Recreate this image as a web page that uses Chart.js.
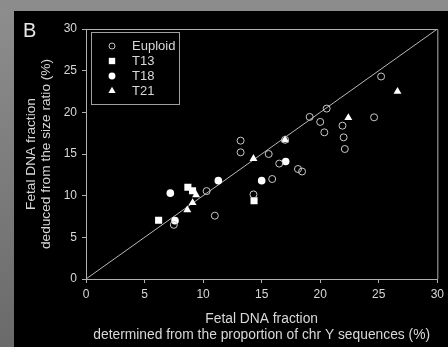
<!DOCTYPE html>
<html>
<head>
<meta charset="utf-8">
<script src="https://cdn.jsdelivr.net/npm/chart.js@4/dist/chart.umd.min.js"></script>
<style>
  html, body { margin: 0; padding: 0; background: #000; }
  #wrap { width: 448px; height: 347px; }
</style>
</head>
<body>
<div id="wrap"><canvas id="chart" width="448" height="347"></canvas></div>
<script>
// valores (x = chr Y, y = razão de tamanho)
const euploidX = [7.5, 10.3, 11.0, 13.2, 13.2, 14.3, 15.6, 15.9, 16.5, 17.0, 18.1, 18.45, 19.1, 20.0, 20.35, 20.55, 21.9, 22.0, 22.1, 24.6, 25.2];
const euploidY = [6.5, 10.55, 7.6, 16.6, 15.2, 10.15, 15.0, 12.0, 13.85, 16.7, 13.2, 12.9, 19.45, 18.85, 17.6, 20.45, 18.4, 17.0, 15.6, 19.4, 24.3];
const t13X = [6.2, 8.7, 9.1, 14.35];
const t13Y = [7.05, 11.0, 10.6, 9.4];
const t18X = [7.2, 7.6, 11.3, 15.0, 17.05];
const t18Y = [10.3, 7.0, 11.8, 11.8, 14.1];
const t21X = [8.65, 9.1, 9.4, 14.3, 17.0, 22.4, 26.6];
const t21Y = [8.3, 9.15, 10.1, 14.45, 16.7, 19.35, 22.5];
const identityX = [0, 30];
const identityY = [0, 30];
const ticksVals = [0, 5, 10, 15, 20, 25, 30];

const legendNames = ["Euploid", "T13", "T18", "T21"];

function pts(xs, ys) {
  return xs.map((x, i) => ({ x: x, y: ys[i] }));
}

const fontFam = "'Liberation Sans', Arial, sans-serif";
const txtColor = "#d8d8d8";
const axisColor = "#b0b0b0";

const bgPlugin = {
  id: "bg",
  beforeDraw(chart) {
    const ctx = chart.ctx;
    ctx.save();
    const g = ctx.createLinearGradient(0, 0, 0, 347);
    g.addColorStop(0, "#8e8e8e");
    g.addColorStop(1, "#6a6a6a");
    ctx.fillStyle = g;
    ctx.fillRect(0, 0, 448, 347);
    ctx.fillStyle = "#8c8c8c";
    ctx.fillRect(0, 0, 448, 11);
    ctx.fillStyle = "#000";
    ctx.fillRect(14, 11, 434, 336);
    ctx.restore();
  },
  afterDraw(chart) {
    const ctx = chart.ctx;
    const a = chart.chartArea;
    ctx.save();
    // cadre
    ctx.strokeStyle = axisColor;
    ctx.lineWidth = 1;
    ctx.beginPath();
    ctx.moveTo(a.left, a.top + 0.5);
    ctx.lineTo(a.right + 0.5, a.top + 0.5);
    ctx.lineTo(a.right + 0.5, a.bottom);
    ctx.stroke();
    // letra B
    ctx.fillStyle = "#e8e8e8";
    ctx.font = "20px " + fontFam;
    ctx.textBaseline = "alphabetic";
    ctx.fillText("B", 23, 37);
    // legenda
    ctx.strokeStyle = "#a0a0a0";
    ctx.strokeRect(91.5, 32.5, 88, 72);
    ctx.font = "13px " + fontFam;
    ctx.textBaseline = "middle";
    legendNames.forEach((name, i) => {
      const y = 46 + i * 15;
      const ds = chart.data.datasets[i];
      ctx.fillStyle = ds.pointBackgroundColor;
      ctx.strokeStyle = ds.pointBorderColor;
      ctx.lineWidth = 1;
      if (i === 0) {
        ctx.beginPath();
        ctx.arc(112, y, 3, 0, Math.PI * 2);
        ctx.stroke();
      } else {
        Chart.helpers.drawPoint(ctx, {
          pointStyle: ds.pointStyle,
          radius: ds.pointRadius * 0.9,
          borderWidth: 0
        }, 112, y);
      }
      ctx.fillStyle = txtColor;
      ctx.fillText(name, 132, y);
    });
    ctx.restore();
  }
};

new Chart(document.getElementById("chart"), {
  type: "scatter",
  data: {
    datasets: [
      { label: legendNames[0], data: pts(euploidX, euploidY), pointStyle: "circle", pointRadius: 3.5,
        pointBackgroundColor: "rgba(0,0,0,0)", pointBorderColor: "#c8c8c8", pointBorderWidth: 1 },
      { label: legendNames[1], data: pts(t13X, t13Y), pointStyle: "rect", pointRadius: 5,
        pointBackgroundColor: "#ffffff", pointBorderColor: "#ffffff", pointBorderWidth: 0 },
      { label: legendNames[2], data: pts(t18X, t18Y), pointStyle: "circle", pointRadius: 3.8,
        pointBackgroundColor: "#ffffff", pointBorderColor: "#ffffff", pointBorderWidth: 0 },
      { label: legendNames[3], data: pts(t21X, t21Y), pointStyle: "triangle", pointRadius: 4.6,
        pointBackgroundColor: "#ffffff", pointBorderColor: "#ffffff", pointBorderWidth: 0 },
      { type: "line", label: "y = x", data: pts(identityX, identityY), borderColor: "#b8b8b8",
        borderWidth: 1, pointRadius: 0, fill: false }
    ]
  },
  options: {
    responsive: false,
    animation: false,
    layout: { padding: { left: 0, top: 29, right: 6, bottom: 0 } },
    plugins: { legend: { display: false }, tooltip: { enabled: false } },
    scales: {
      x: {
        type: "linear", min: 0, max: 30,
        afterBuildTicks: s => { s.ticks = ticksVals.map(v => ({ value: v })); },
        afterFit: s => { s.height = 68; },
        grid: { drawOnChartArea: false, color: axisColor, tickLength: 4 },
        border: { color: axisColor },
        ticks: { color: txtColor, padding: 4, font: { family: fontFam, size: 12 } },
        title: {
          display: true,
          text: ["Fetal DNA fraction", "determined from the proportion of chr Y sequences (%)"],
          color: txtColor,
          font: { family: fontFam, size: 13.8, lineHeight: 1.15 },
          padding: { top: 0, bottom: 4 }
        }
      },
      y: {
        type: "linear", min: 0, max: 30,
        afterBuildTicks: s => { s.ticks = ticksVals.map(v => ({ value: v })); },
        afterFit: s => { s.width = 86; },
        grid: { drawOnChartArea: false, color: axisColor, tickLength: 4 },
        border: { color: axisColor },
        ticks: { color: txtColor, padding: 5, font: { family: fontFam, size: 12 } },
        title: {
          display: true,
          text: ["Fetal DNA fraction", "deduced from the size ratio (%)"],
          color: txtColor,
          font: { family: fontFam, size: 13.7, lineHeight: 1.1 },
          padding: { top: 24, bottom: 0 }
        }
      }
    }
  },
  plugins: [bgPlugin]
});
</script>
</body>
</html>
